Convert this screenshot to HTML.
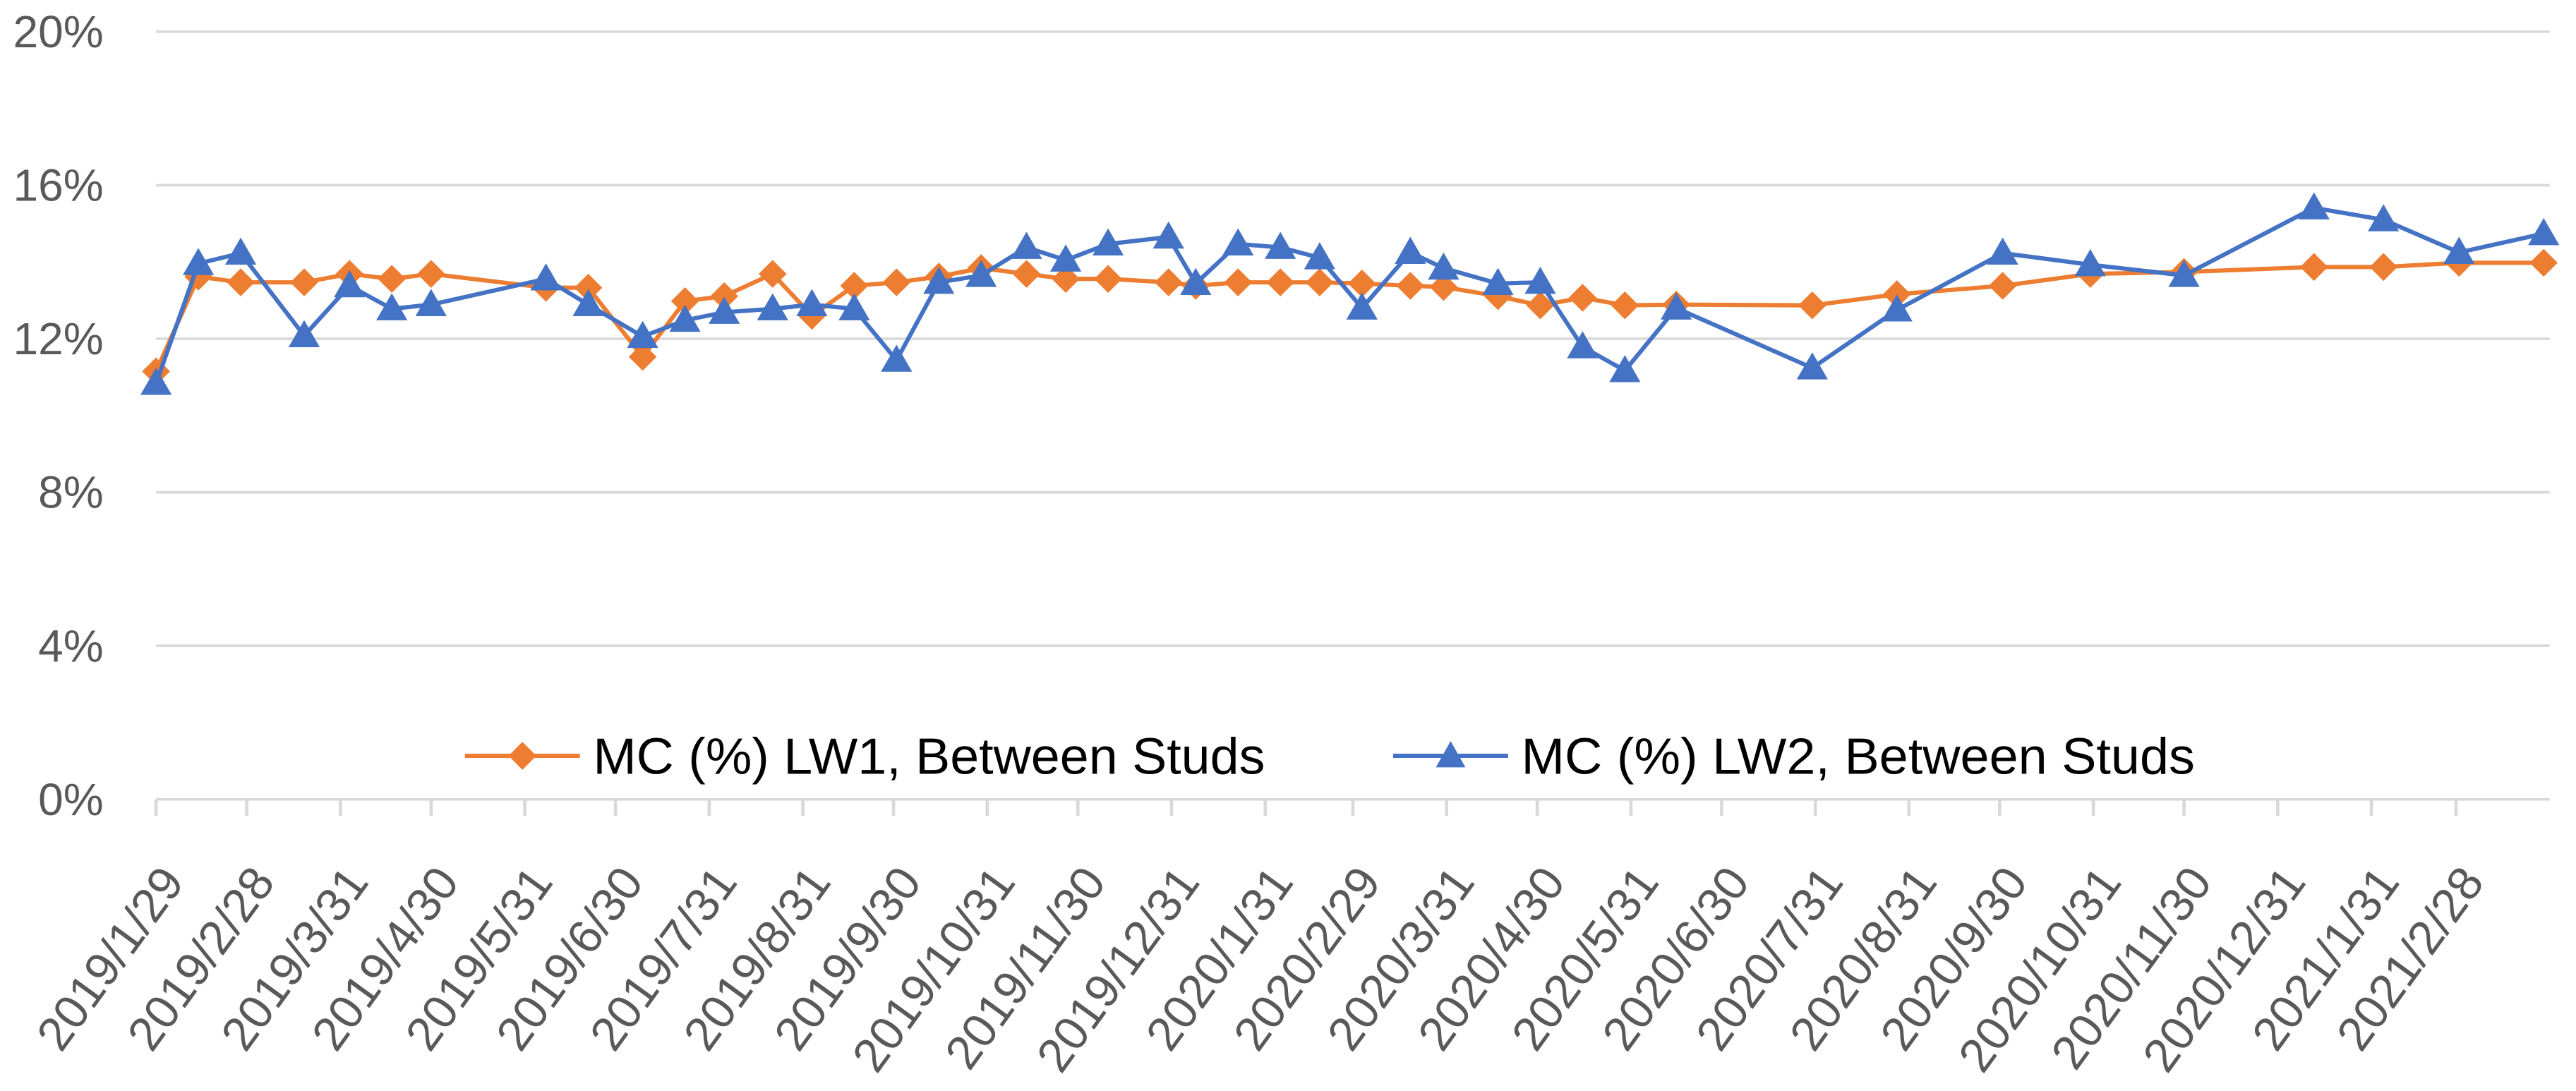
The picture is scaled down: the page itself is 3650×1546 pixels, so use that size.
<!DOCTYPE html>
<html><head><meta charset="utf-8"><style>
html,body{margin:0;padding:0;background:#fff;}
svg{display:block;font-family:"Liberation Sans",sans-serif;}
</style></head>
<body>
<svg id="chart" width="3650" height="1546" viewBox="0 0 1568 664" preserveAspectRatio="none" xmlns="http://www.w3.org/2000/svg">
<g id="grid"></g>
<g id="yaxis"></g>
<g id="xaxis"></g>
<g id="series"></g>
<g id="legend">
  <g>
    <line x1="283" y1="460" x2="353" y2="460" stroke="#ED7D31" stroke-width="2.6"/>
    <polygon points="318,451.5 326.5,460 318,468.5 309.5,460" fill="#ED7D31"/>
    <text x="361" y="471" font-size="31" fill="#000" textLength="409" lengthAdjust="spacingAndGlyphs">MC (%) LW1, Between Studs</text>
  </g>
  <g>
    <line x1="848" y1="460" x2="918" y2="460" stroke="#4472C4" stroke-width="2.6"/>
    <polygon points="883,451 892,467 874,467" fill="#4472C4"/>
    <text x="926" y="471" font-size="31" fill="#000" textLength="410" lengthAdjust="spacingAndGlyphs">MC (%) LW2, Between Studs</text>
  </g>
</g>
</svg>
<script>
const dates = ["2019-01-29","2019-02-12","2019-02-26","2019-03-19","2019-04-03","2019-04-17","2019-04-30","2019-06-07","2019-06-21","2019-07-09","2019-07-23","2019-08-05","2019-08-21","2019-09-03","2019-09-17","2019-10-01","2019-10-15","2019-10-29","2019-11-13","2019-11-26","2019-12-10","2019-12-30","2020-01-08","2020-01-22","2020-02-05","2020-02-18","2020-03-03","2020-03-19","2020-03-30","2020-04-17","2020-05-01","2020-05-15","2020-05-29","2020-06-15","2020-07-30","2020-08-27","2020-10-01","2020-10-30","2020-11-30","2021-01-12","2021-02-04","2021-03-01","2021-03-29"];
const lw1 = [11.15,13.62,13.47,13.47,13.69,13.56,13.69,13.33,13.33,11.53,12.98,13.11,13.69,12.60,13.38,13.47,13.62,13.84,13.69,13.56,13.56,13.47,13.38,13.47,13.47,13.47,13.44,13.38,13.35,13.11,12.87,13.07,12.87,12.89,12.87,13.16,13.38,13.69,13.74,13.87,13.87,13.98,13.98];
const lw2 = [10.84,13.96,14.23,12.08,13.38,12.78,12.89,13.56,12.89,12.06,12.48,12.69,12.78,12.89,12.78,11.44,13.47,13.65,14.38,14.05,14.47,14.65,13.44,14.47,14.38,14.11,12.80,14.25,13.84,13.44,13.47,11.79,11.17,12.80,11.24,12.75,14.23,13.93,13.65,15.41,15.10,14.25,14.74];
const yTicks = [0,4,8,12,16,20];
const xTickLabels = ["2019/1/29","2019/2/28","2019/3/31","2019/4/30","2019/5/31","2019/6/30","2019/7/31","2019/8/31","2019/9/30","2019/10/31","2019/11/30","2019/12/31","2020/1/31","2020/2/29","2020/3/31","2020/4/30","2020/5/31","2020/6/30","2020/7/31","2020/8/31","2020/9/30","2020/10/31","2020/11/30","2020/12/31","2021/1/31","2021/2/28"];
const xMinDate = "2019-01-29", xMaxDate = "2021-03-31";

const NS = "http://www.w3.org/2000/svg";
const X0 = 95, X1 = 1552, Y0 = 486.5, Y20 = 19.3;
function dayNum(s){const p=s.split(/[-\/]/).map(Number);return Date.UTC(p[0],p[1]-1,p[2])/86400000;}
const dMin = dayNum(xMinDate), dMax = dayNum(xMaxDate);
function xs(s){return X0 + (dayNum(s)-dMin)/(dMax-dMin)*(X1-X0);}
function ys(v){return Y0 - v/20*(Y0-Y20);}
function mk(tag, attrs, parent){const e=document.createElementNS(NS,tag);for(const k in attrs)e.setAttribute(k,attrs[k]);parent.appendChild(e);return e;}

const grid = document.getElementById('grid'), yax = document.getElementById('yaxis'), xax = document.getElementById('xaxis'), ser = document.getElementById('series');
yTicks.forEach(t=>{
  const l = mk('line',{x1:X0,x2:X1,y1:ys(t),y2:ys(t),stroke:'#D9D9D9','stroke-width':1.6},grid);
  
  
  const tx = mk('text',{x:63,y:ys(t)+9.5,'text-anchor':'end','font-size':27.5,fill:'#595959'},yax);
  tx.textContent = t+'%';
  
  
});
xTickLabels.forEach(lbl=>{
  const x = xs(lbl);
  const tk = mk('line',{x1:x,x2:x,y1:Y0,y2:Y0+10,stroke:'#D9D9D9','stroke-width':2},xax);
  
  
  const tx = mk('text',{x:0,y:0,'text-anchor':'end','font-size':29,fill:'#595959',transform:'translate('+(x+18)+' 537) rotate(-54)'},xax);
  tx.textContent = lbl;
  
  
});
function drawSeries(vals, color, name, marker){
  const g = mk('g',{},ser);
  
  
  const pts = vals.map((v,i)=>xs(dates[i]).toFixed(2)+','+ys(v).toFixed(2)).join(' ');
  const pl = mk('polyline',{points:pts,fill:'none',stroke:color,'stroke-width':2.6,'stroke-linejoin':'round'},g);
  
  
  vals.forEach((v,i)=>{
    const x = xs(dates[i]), y = ys(v);
    let p;
    if(marker==='diamond') p = mk('polygon',{points:`${x},${y-8.5} ${x+8.5},${y} ${x},${y+8.5} ${x-8.5},${y}`,fill:color},g);
    else p = mk('polygon',{points:`${x},${y-9.5} ${x+9.5},${y+7} ${x-9.5},${y+7}`,fill:color},g);
    
    
  });
}
drawSeries(lw1,'#ED7D31','series-lw1','diamond');
drawSeries(lw2,'#4472C4','series-lw2','triangle');
</script>
</body></html>
